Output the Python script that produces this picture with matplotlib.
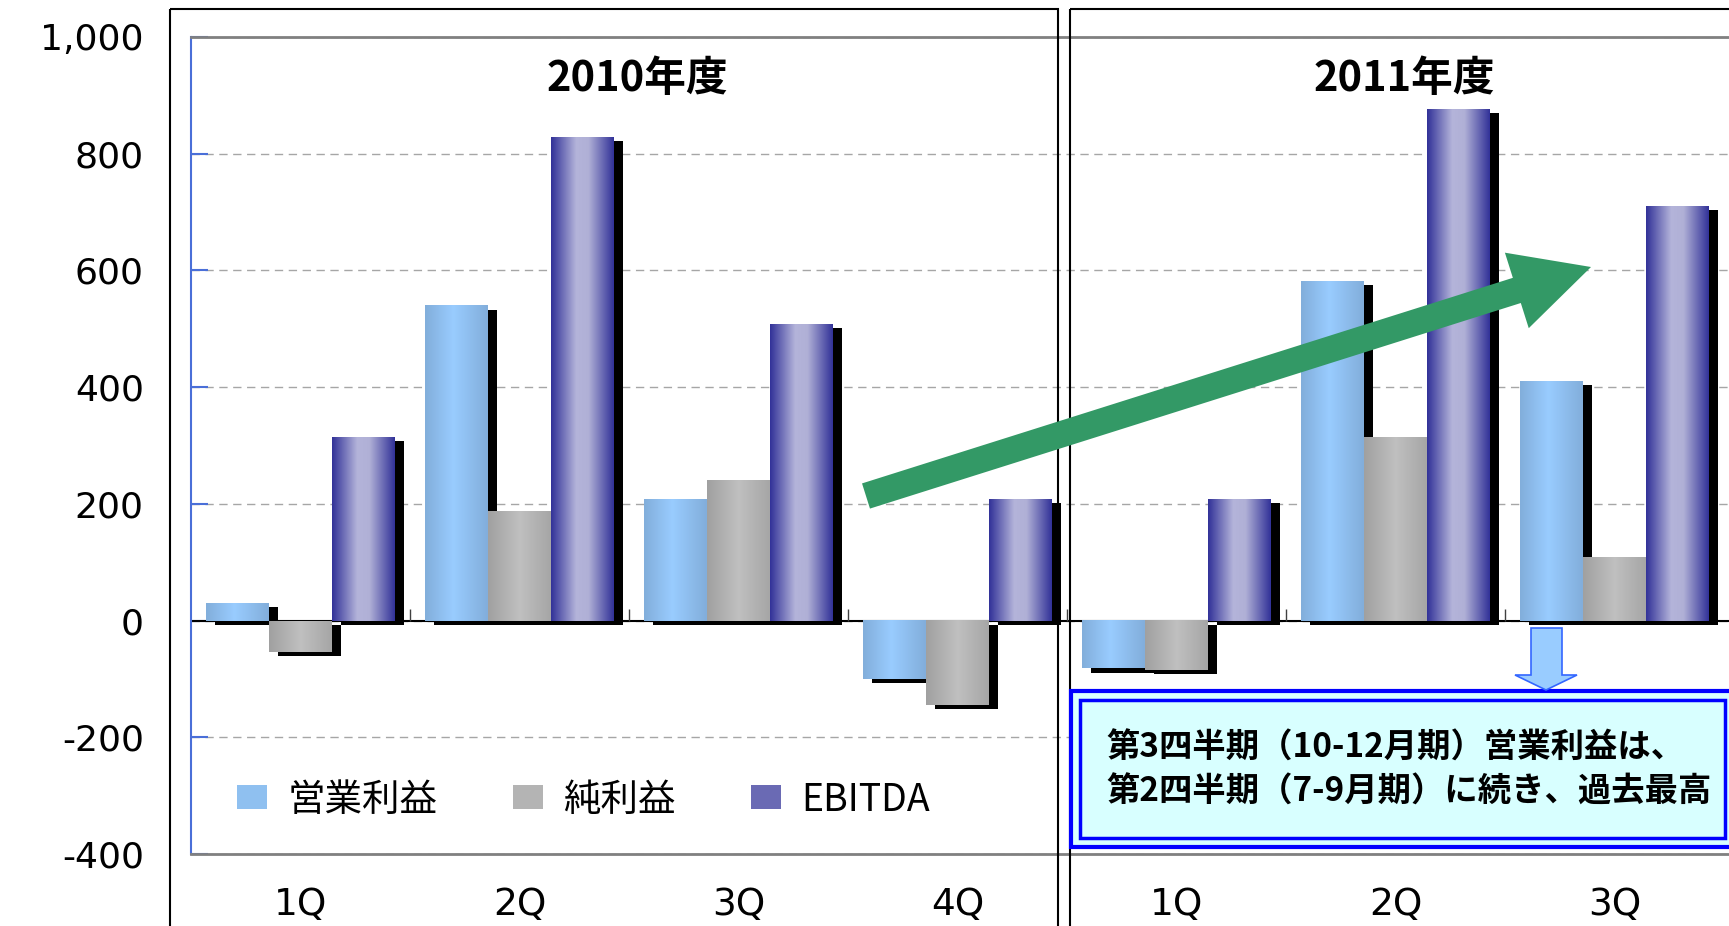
import numpy as np
import matplotlib.pyplot as plt
import matplotlib.colors as mcolors
from matplotlib.patches import Rectangle, Polygon, Patch

plt.rcParams['font.family'] = ['Noto Sans CJK JP', 'DejaVu Sans']

# data
quarters = ['1Q', '2Q', '3Q', '4Q', '1Q', '2Q', '3Q']
year_of_q = [0, 0, 0, 0, 1, 1, 1]
fiscal_years = ['2010年度', '2011年度']
op_profit = [30, 540, 208, -100, -82, 582, 411]
net_profit = [-53, 187, 240, -145, -85, 315, 109]
ebitda = [315, 829, 508, 208, 209, 876, 711]
series_names = ['営業利益', '純利益', 'EBITDA']
y_ticks = [-400, -200, 0, 200, 400, 600, 800, 1000]
note = '第3四半期（10-12月期）営業利益は、\n第2四半期（7-9月期）に続き、過去最高'

# gradient stops (position, colour) for each series
grad_stops = [
    [(0, '#82AEDB'), (0.45, '#99CCFF'), (1, '#82AEDB')],
    [(0, '#A0A0A0'), (0.5, '#C0C0C0'), (1, '#A6A6A6')],
    [(0, '#333399'), (0.4, '#B4B4DA'), (0.6, '#B0B0D6'), (1, '#333399')],
]
legend_cols = ['#8FC0F0', '#B4B4B4', '#6A6AB4']


def gradient(stops):
    pos, cols = zip(*stops)
    cols = np.array([mcolors.to_rgb(c) for c in cols])
    t = np.linspace(0, 1, 64)
    return np.stack([np.interp(t, pos, cols[:, i]) for i in range(3)], axis=-1)[None]


W, H = 1729, 926
fig = plt.figure(figsize=(W / 100, H / 100), dpi=100)
ax = fig.add_axes([191 / W, (H - 854) / H, (W - 191) / W, (854 - 37) / H])

x = np.arange(len(quarters))
bw = 63 / 219
offsets = [-bw, 0, bw]
dx = 9 / 219
dy = 7

for k, (vals, off) in enumerate(zip([op_profit, net_profit, ebitda], offsets)):
    ax.bar(x + off + dx, vals, bw, bottom=-dy, color='black', zorder=2 + k)
    bars = ax.bar(x + off, vals, bw, color='none', zorder=2.5 + k)
    img = gradient(grad_stops[k])
    for p in bars:
        x0, y0, w, h = p.get_x(), p.get_y(), p.get_width(), p.get_height()
        ax.imshow(img, extent=(x0, x0 + w, min(y0, y0 + h), max(y0, y0 + h)),
                  aspect='auto', interpolation='bilinear', zorder=2.5 + k)

ax.set_xlim(-0.5, -0.5 + (W - 191) / 219)
ax.set_ylim(-400, 1000)

ax.axhline(0, color='black', lw=1.5, zorder=1.5)
ax.vlines(x[:-1] + 0.5, 0, 19, color='#404040', lw=1, zorder=1.5)

ax.set_yticks(y_ticks, labels=[f'{v:,}' for v in y_ticks])
for lbl in ax.get_yticklabels():
    lbl.set_fontfamily('DejaVu Sans')
ax.tick_params(axis='y', direction='in', length=12, width=1.5, color='#4A6FD8',
               pad=34, labelsize=26)
ax.set_xticks(x, labels=quarters)
for lbl in ax.get_xticklabels():
    lbl.set_fontfamily('DejaVu Sans')
ax.tick_params(axis='x', length=0, pad=24, labelsize=27)

ax.yaxis.grid(True, ls=(0, (6, 4)), color='#A6A6A6', lw=1)
ax.set_axisbelow(True)

ax.spines['left'].set_color('#4A6FD8')
ax.spines['left'].set_linewidth(1.5)
for s in ['top', 'bottom']:
    ax.spines[s].set_color('#808080')
    ax.spines[s].set_linewidth(2)
ax.spines['right'].set_visible(False)

# year titles centred over their quarters
for i, yr in enumerate(fiscal_years):
    cx = np.mean([xi for xi, yi in zip(x, year_of_q) if yi == i])
    ax.text(cx + 0.04, 0.949, yr, transform=ax.get_xaxis_transform(), ha='center',
            va='center', fontsize=30, fontweight='bold')

handles = [Patch(facecolor=c) for c in legend_cols]
ax.legend(handles, series_names, loc='center left', bbox_to_anchor=(0.03, 0.066),
          ncol=3, frameon=False, fontsize=27, borderpad=0, borderaxespad=0,
          handlelength=0.8, handleheight=0.6, handletextpad=0.55, columnspacing=2.0)

# overlay in pixel coordinates for frames and callouts
ov = fig.add_axes([0, 0, 1, 1])
ov.set_xlim(0, W)
ov.set_ylim(H, 0)
ov.axis('off')
ov.patch.set_alpha(0)

ov.add_patch(Rectangle((170, 9), 1058 - 170, 1000, fill=False, ec='black', lw=1.5))
ov.add_patch(Rectangle((1070, 9), 800, 1000, fill=False, ec='black', lw=1.5))

ov.add_patch(Rectangle((1071, 691), 700, 156, fc='#D8FFFF', ec='#0000FF', lw=3))
ov.add_patch(Rectangle((1080, 700), 1725 - 1080, 138, fc='none', ec='#0000FF', lw=2.5))
ov.text(1106, 770, note, ha='left', va='center', fontsize=24, fontweight='bold',
        linespacing=1.4)

ov.add_patch(Polygon([(1531, 628), (1562, 628), (1562, 675), (1577, 675), (1546, 690),
                      (1515, 675), (1531, 675)], fc='#99CCFF', ec='#3366FF', lw=1.2))

ov.annotate('', xy=(1591, 267), xytext=(866, 496),
            arrowprops=dict(arrowstyle='simple,head_length=0.56,head_width=0.57,tail_width=0.19',
                            mutation_scale=100, color='#339966', lw=0,
                            shrinkA=0, shrinkB=0))

fig.savefig('out.png', dpi=100)
